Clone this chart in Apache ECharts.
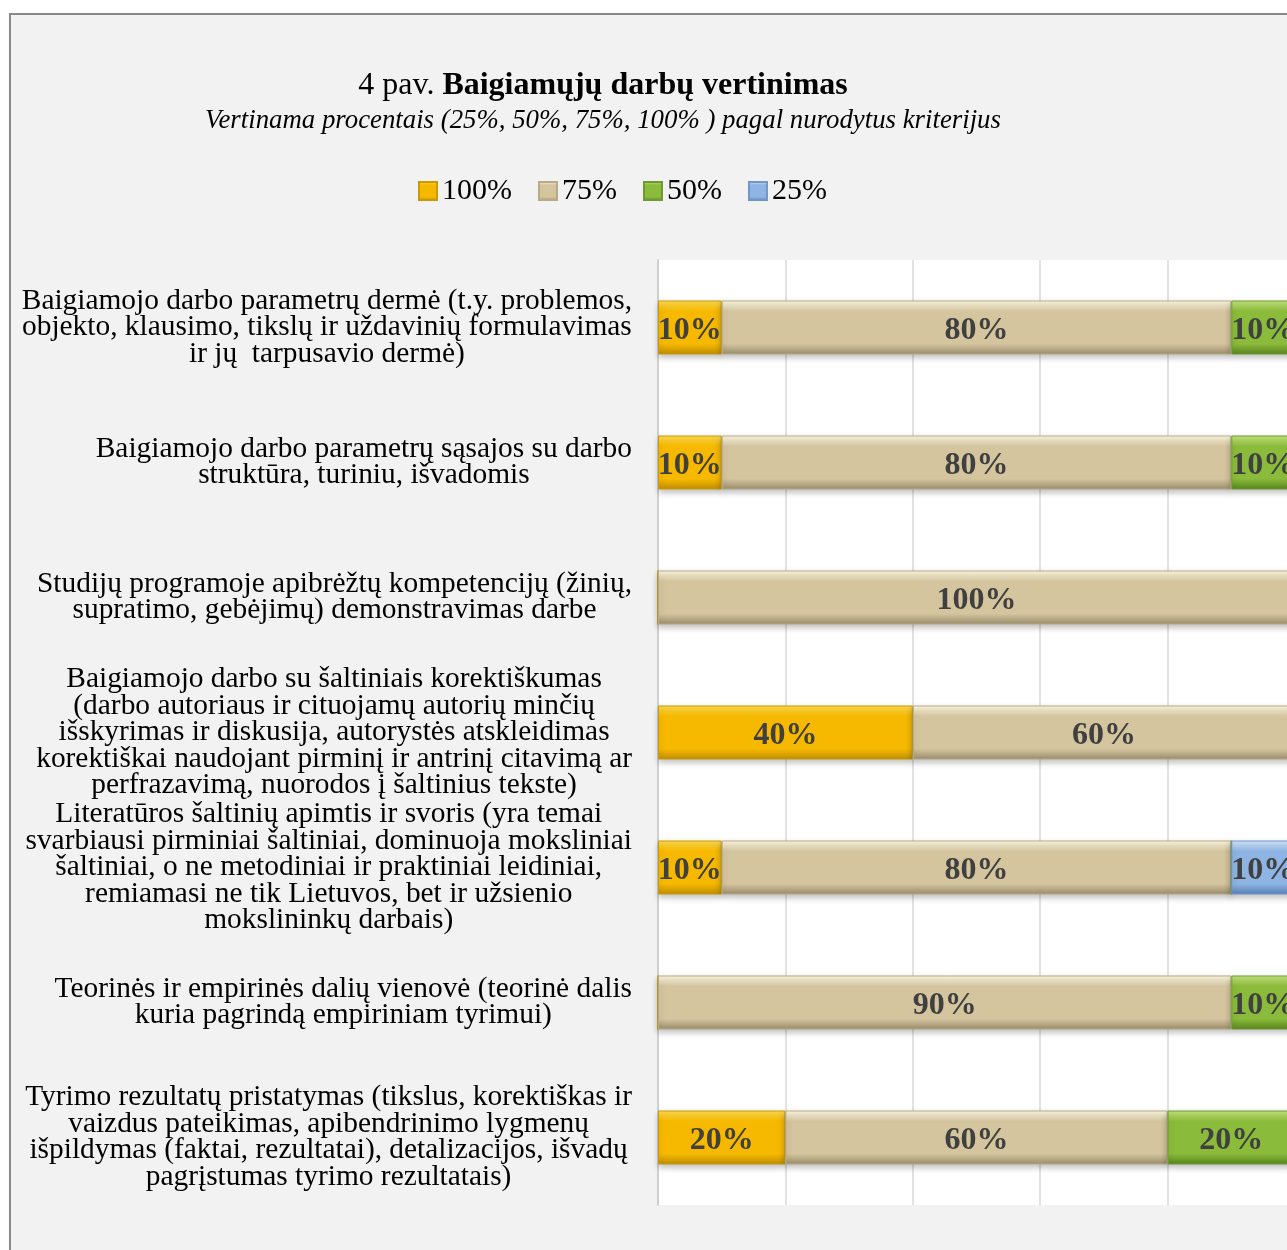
<!DOCTYPE html>
<html>
<head>
<meta charset="utf-8">
<script src="https://cdn.jsdelivr.net/npm/echarts@6/dist/echarts.min.js"></script>
<style>
  html, body { margin: 0; padding: 0; background: #fff; }
  #frame {
    position: absolute; left: 9px; top: 13px; width: 1300px; height: 1300px;
    background: #f2f2f2; border-left: 2px solid #888; border-top: 2px solid #888;
  }
  #main { position: absolute; left: 0; top: 0; width: 1287px; height: 1250px; }
</style>
</head>
<body>
<div id="frame"></div>
<div id="main"></div>
<script>
// criteria (line breaks as in the original figure)
var categories = [
  'Baigiamojo darbo parametrų dermė (t.y. problemos,\nobjekto, klausimo, tikslų ir uždavinių formulavimas\nir jų  tarpusavio dermė)',
  'Baigiamojo darbo parametrų sąsajos su darbo\nstruktūra, turiniu, išvadomis',
  'Studijų programoje apibrėžtų kompetencijų (žinių,\nsupratimo, gebėjimų) demonstravimas darbe',
  'Baigiamojo darbo su šaltiniais korektiškumas\n(darbo autoriaus ir cituojamų autorių minčių\nišskyrimas ir diskusija, autorystės atskleidimas\nkorektiškai naudojant pirminį ir antrinį citavimą ar\nperfrazavimą, nuorodos į šaltinius tekste)',
  'Literatūros šaltinių apimtis ir svoris (yra temai\nsvarbiausi pirminiai šaltiniai, dominuoja moksliniai\nšaltiniai, o ne metodiniai ir praktiniai leidiniai,\nremiamasi ne tik Lietuvos, bet ir užsienio\nmokslininkų darbais)',
  'Teorinės ir empirinės dalių vienovė (teorinė dalis\nkuria pagrindą empiriniam tyrimui)',
  'Tyrimo rezultatų pristatymas (tikslus, korektiškas ir\nvaizdus pateikimas, apibendrinimo lygmenų\nišpildymas (faktai, rezultatai), detalizacijos, išvadų\npagrįstumas tyrimo rezultatais)'
];
var seriesNames = ['100%', '75%', '50%', '25%'];
var val100 = [10, 10, 0, 40, 10, 0, 20];
var val75  = [80, 80, 100, 60, 80, 90, 60];
var val50  = [10, 10, 0, 0, 0, 10, 20];
var val25  = [0, 0, 0, 0, 10, 0, 0];

var serif = '"Liberation Serif", "Times New Roman", serif';

function bevel(top, base, bottom) {
  return new echarts.graphic.LinearGradient(0, 0, 0, 1, [
    { offset: 0, color: top },
    { offset: 0.2, color: base },
    { offset: 0.8, color: base },
    { offset: 1, color: bottom }
  ]);
}

var colors = [
  ['#ffdc50', '#f6b900', '#c08d00', '#c99a08'],
  ['#fffbe4', '#d4c59f', '#9a8d6c', '#b8aa85'],
  ['#c6e680', '#8bbb3a', '#58831f', '#6f9a2e'],
  ['#d6e7fa', '#8db4e2', '#5a80b5', '#6f97c8']
];

function makeSeries(name, data, c) {
  return {
    name: name,
    type: 'bar',
    stack: 'all',
    barWidth: 54,
    data: data,
    itemStyle: {
      color: bevel(c[0], c[1], c[2]),
      borderColor: c[3],
      borderWidth: 1,
      shadowBlur: 6,
      shadowOffsetY: 3,
      shadowColor: 'rgba(0,0,0,0.25)'
    },
    label: {
      show: true,
      position: 'inside',
      offset: [0, 3],
      color: '#404040',
      fontFamily: serif,
      fontWeight: 'bold',
      fontSize: 32,
      formatter: function (p) { return p.value ? p.value + '%' : ''; }
    }
  };
}

var chart = echarts.init(document.getElementById('main'));
chart.setOption({
  backgroundColor: 'transparent',
  animation: false,
  title: [
    {
      text: '{n|4 pav. }{b|Baigiamųjų darbų vertinimas}',
      left: 598,
      textAlign: 'center',
      top: 65,
      textStyle: {
        fontFamily: serif,
        fontSize: 32,
        fontWeight: 'normal',
        color: '#000',
        rich: {
          n: { fontFamily: serif, fontSize: 32, fontWeight: 'normal', color: '#000' },
          b: { fontFamily: serif, fontSize: 32, fontWeight: 'bold', color: '#000' }
        }
      }
    },
    {
      text: 'Vertinama procentais (25%, 50%, 75%, 100% ) pagal nurodytus kriterijus',
      left: 598,
      textAlign: 'center',
      top: 102,
      textStyle: { fontFamily: serif, fontSize: 26.8, fontStyle: 'italic', fontWeight: 'normal', color: '#000' }
    }
  ],
  legend: {
    data: seriesNames,
    left: 413,
    top: 171,
    itemWidth: 18,
    itemHeight: 18,
    itemGap: 26,
    icon: 'rect',
    textStyle: { fontFamily: serif, fontSize: 30, color: '#000' }
  },
  grid: {
    left: 658,
    top: 260,
    width: 637,
    height: 945,
    outerBoundsMode: 'none',
    show: true,
    backgroundColor: '#fff',
    borderWidth: 0
  },
  xAxis: {
    type: 'value',
    min: 0,
    max: 100,
    interval: 20,
    axisLabel: { show: false },
    axisLine: { show: false },
    axisTick: { show: false },
    splitLine: { lineStyle: { color: '#d9d9d9', width: 1.5 } }
  },
  yAxis: {
    type: 'category',
    inverse: true,
    data: categories,
    axisTick: { show: false },
    axisLine: { lineStyle: { color: '#cfcfcf', width: 2 } },
    axisLabel: {
      interval: 0,
      margin: 26,
      formatter: function (v) { return '{c|' + v + '}'; },
      rich: {
        c: { align: 'center', fontFamily: serif, fontSize: 29.4, lineHeight: 26.5, color: '#000' }
      }
    }
  },
  series: [
    makeSeries(seriesNames[0], val100, colors[0]),
    makeSeries(seriesNames[1], val75, colors[1]),
    makeSeries(seriesNames[2], val50, colors[2]),
    makeSeries(seriesNames[3], val25, colors[3])
  ]
});
</script>
</body>
</html>
